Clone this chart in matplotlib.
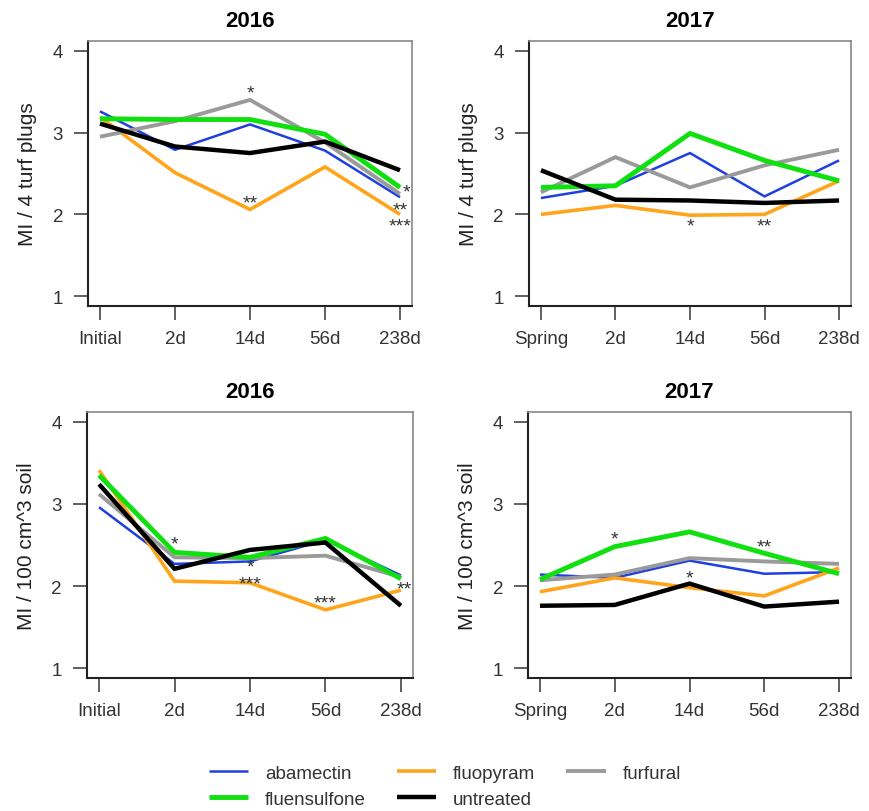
import numpy as np
import matplotlib
matplotlib.use("Agg")
from matplotlib import pyplot as plt

plt.rcParams['font.family'] = ['Liberation Sans', 'DejaVu Sans']

# x labels per panel
x_2016 = ["Initial", "2d", "14d", "56d", "238d"]
x_2017 = ["Spring", "2d", "14d", "56d", "238d"]

treatments = ["abamectin", "fluopyram", "furfural", "fluensulfone", "untreated"]
colors = {"abamectin": "#1f3fe0", "fluopyram": "#ffa51c", "furfural": "#9a9a9a",
          "fluensulfone": "#10e010", "untreated": "#000000"}
widths = {"abamectin": 1.8, "fluopyram": 2.6, "furfural": 2.8,
          "fluensulfone": 3.5, "untreated": 3.2}

# turf plugs 2016
turf16_abamectin = [3.26, 2.79, 3.10, 2.78, 2.21]
turf16_fluopyram = [3.19, 2.51, 2.06, 2.58, 2.00]
turf16_furfural = [2.95, 3.14, 3.40, 2.88, 2.25]
turf16_fluensulfone = [3.17, 3.16, 3.16, 2.98, 2.33]
turf16_untreated = [3.11, 2.83, 2.75, 2.89, 2.54]

# turf plugs 2017
turf17_abamectin = [2.20, 2.35, 2.75, 2.22, 2.66]
turf17_fluopyram = [2.00, 2.11, 1.99, 2.00, 2.41]
turf17_furfural = [2.27, 2.70, 2.33, 2.60, 2.79]
turf17_fluensulfone = [2.33, 2.35, 2.99, 2.66, 2.41]
turf17_untreated = [2.54, 2.18, 2.17, 2.14, 2.17]

# soil 2016
soil16_abamectin = [2.96, 2.27, 2.30, 2.56, 2.13]
soil16_fluopyram = [3.41, 2.06, 2.04, 1.71, 1.95]
soil16_furfural = [3.12, 2.35, 2.34, 2.37, 2.11]
soil16_fluensulfone = [3.35, 2.41, 2.35, 2.58, 2.09]
soil16_untreated = [3.24, 2.21, 2.44, 2.53, 1.76]

# soil 2017
soil17_abamectin = [2.14, 2.10, 2.31, 2.15, 2.17]
soil17_fluopyram = [1.93, 2.10, 1.98, 1.88, 2.22]
soil17_furfural = [2.07, 2.14, 2.34, 2.30, 2.27]
soil17_fluensulfone = [2.08, 2.48, 2.66, 2.40, 2.15]
soil17_untreated = [1.76, 1.77, 2.03, 1.75, 1.81]

# significance stars: (x index, y, label)
stars_turf16 = [(3, 3.48, "*"), (3, 2.14, "**"), (5.08, 2.28, "*"), (5, 2.05, "**"), (5, 1.86, "***")]
stars_turf17 = [(3, 1.86, "*"), (4, 1.86, "**")]
stars_soil16 = [(2, 2.51, "*"), (3, 2.23, "*"), (3, 2.03, "***"), (4, 1.80, "***"), (5.05, 1.96, "**")]
stars_soil17 = [(2, 2.57, "*"), (3, 2.10, "*"), (4, 2.47, "**")]

panels = [
    ("2016", x_2016, "MI / 4 turf plugs",
     [turf16_abamectin, turf16_fluopyram, turf16_furfural, turf16_fluensulfone, turf16_untreated],
     stars_turf16, [88/869, 1 - 307/812, 324/869, 265/812]),
    ("2017", x_2017, "MI / 4 turf plugs",
     [turf17_abamectin, turf17_fluopyram, turf17_furfural, turf17_fluensulfone, turf17_untreated],
     stars_turf17, [529/869, 1 - 307/812, 322/869, 265/812]),
    ("2016", x_2016, "MI / 100 cm^3 soil",
     [soil16_abamectin, soil16_fluopyram, soil16_furfural, soil16_fluensulfone, soil16_untreated],
     stars_soil16, [87/869, 1 - 679/812, 326/869, 266/812]),
    ("2017", x_2017, "MI / 100 cm^3 soil",
     [soil17_abamectin, soil17_fluopyram, soil17_furfural, soil17_fluensulfone, soil17_untreated],
     stars_soil17, [528/869, 1 - 679/812, 323/869, 266/812]),
]

fig = plt.figure(figsize=(8.69, 8.12), dpi=100)
x = np.arange(1, 6)
handles = {}
for title, xlabels, ylabel, series, stars, pos in panels:
    ax = fig.add_axes(pos)
    for name, vals in zip(treatments, series):
        ln, = ax.plot(x, vals, color=colors[name], lw=widths[name],
                      solid_joinstyle='miter', solid_capstyle='butt', label=name)
        handles[name] = ln
    for xi, yi, lab in stars:
        ax.text(xi, yi, lab, ha='center', va='center', fontsize=14, color='#333333')
    ax.set_xlim(0.84, 5.16)
    ax.set_ylim(0.88, 4.12)
    ax.set_xticks(x)
    ax.set_xticklabels(xlabels)
    ax.set_yticks([1, 2, 3, 4])
    ax.tick_params(axis='both', length=10, width=1.2, color='#444444',
                   labelsize=13.5, labelcolor='#333333')
    ax.tick_params(axis='x', pad=7)
    ax.tick_params(axis='y', pad=8)
    for s in ['left', 'bottom']:
        ax.spines[s].set_color('#222222')
        ax.spines[s].set_linewidth(1.5)
    for s in ['top', 'right']:
        ax.spines[s].set_color('#888888')
        ax.spines[s].set_linewidth(1.2)
    ax.set_title(title, fontsize=16, fontweight='bold', pad=11)
    ax.set_ylabel(ylabel, fontsize=15, color='#222222', labelpad=11)

order = ["abamectin", "fluensulfone", "fluopyram", "untreated", "furfural"]
leg = fig.legend([handles[n] for n in order], order, ncol=3, loc='upper center',
                 bbox_to_anchor=(0.512, 1 - 749/812), frameon=False, fontsize=13.5,
                 handlelength=2.1, handletextpad=0.9, columnspacing=1.65,
                 labelspacing=0.45)
for t in leg.get_texts():
    t.set_color('#333333')

fig.savefig("out.png", dpi=100)
